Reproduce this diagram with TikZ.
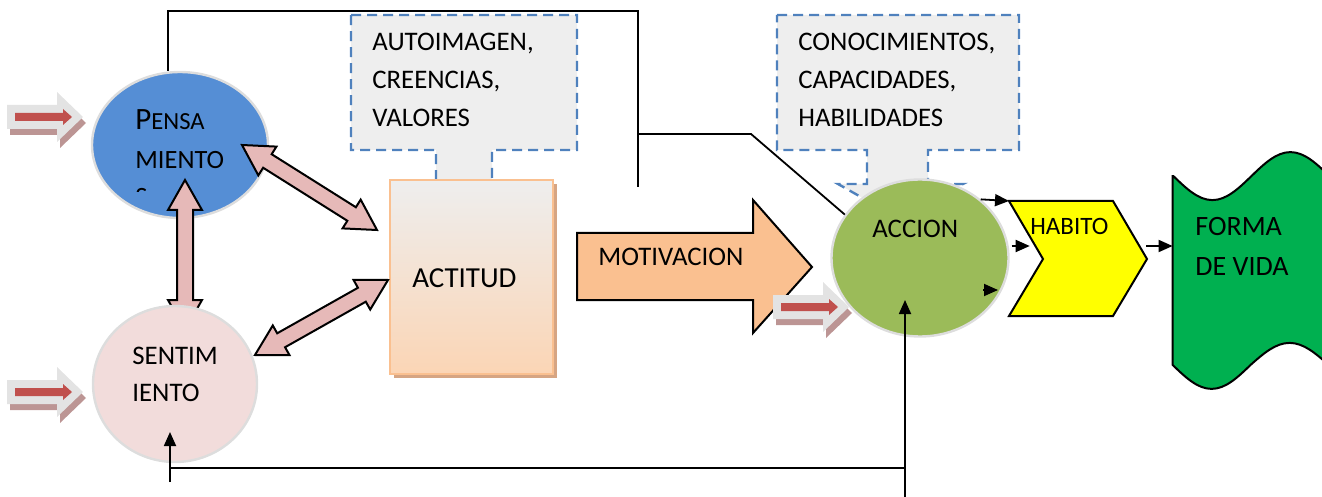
\documentclass[tikz,border=0pt]{standalone}
\usepackage{fontspec}
\setmainfont{Carlito}
\usetikzlibrary{arrows.meta,positioning,calc,shapes.geometric,shadows}

\definecolor{pensblue}{HTML}{558ED5}
\definecolor{sentpink}{HTML}{F2DCDB}
\definecolor{accgreen}{HTML}{9BBB59}
\definecolor{dblpink}{HTML}{E6B9B8}
\definecolor{calloutgray}{HTML}{EEEEEE}
\definecolor{dashblue}{HTML}{4F81BD}
\definecolor{peach}{HTML}{FAC090}
\definecolor{peachlight}{HTML}{FBD5B5}
\definecolor{actshade}{HTML}{D6A583}
\definecolor{habyellow}{HTML}{FFFF00}
\definecolor{vidagreen}{HTML}{00B050}
\definecolor{inred}{HTML}{C0504D}
\definecolor{ingray}{HTML}{E3E3E3}
\definecolor{inshade}{HTML}{BC9594}
\definecolor{rimgray}{HTML}{DDDDDD}

% two-headed block arrow between two points
\newcommand\dblarr[2]{%
  \coordinate (da) at (#1); \coordinate (db) at (#2);
  \coordinate (ha) at ($(da)!15pt!(db)$);
  \coordinate (hb) at ($(db)!15pt!(da)$);
  \draw[dbl] (da) -- ($(ha)!8.5pt!90:(db)$) -- ($(ha)!4pt!90:(db)$)
    -- ($(hb)!4pt!-90:(da)$) -- ($(hb)!8.5pt!-90:(da)$) -- (db)
    -- ($(hb)!8.5pt!90:(da)$) -- ($(hb)!4pt!90:(da)$)
    -- ($(ha)!4pt!-90:(db)$) -- ($(ha)!8.5pt!-90:(db)$) -- cycle;}

\begin{document}
\begin{tikzpicture}[x=0.5pt,y=-0.5pt,line join=miter,
  txt/.style={inner sep=0pt,anchor=north west,align=left,font=\fontsize{13.4}{19}\selectfont},
  blob/.style={ellipse,inner sep=0pt,draw=rimgray,line width=1.2pt},
  dbl/.style={draw=black,fill=dblpink,line width=1pt},
  callout/.style={draw=dashblue,fill=calloutgray,line width=1.2pt,dash pattern=on 5pt off 3pt},
  wire/.style={draw=black,line width=0.9pt},
  feed/.style={wire,-{Triangle[length=7pt,width=6pt]}},
  inflow/.pic={
    \fill[inshade,shift={(3,6)}] (-76,-12) -- (-26,-12) -- (-26,-25) -- (0,0) -- (-26,25) -- (-26,12) -- (-76,12) -- cycle;
    \fill[ingray] (-76,-12) -- (-26,-12) -- (-26,-25) -- (0,0) -- (-26,25) -- (-26,12) -- (-76,12) -- cycle;
    \fill[inred] (-68,-4) -- (-20,-4) -- (-20,-8) -- (-11,0) -- (-20,8) -- (-20,4) -- (-68,4) -- cycle;}]
\useasboundingbox (0,0) rectangle (1322,497);
\clip (0,0) rectangle (1322,497);

% callouts
\draw[callout] (351,15) -- (577,15) -- (577,150) -- (492,150) -- (492,185) -- (505,185) -- (464,210) -- (423,185) -- (436,185) -- (436,150) -- (351,150) -- cycle;
\node[txt] (auto) at (372,33) {AUTOIMAGEN,\\CREENCIAS,\\VALORES};
\draw[callout] (777,15) -- (1019,15) -- (1019,150) -- (928,150) -- (928,184) -- (963,184) -- (898,218) -- (838,184) -- (867,184) -- (867,150) -- (777,150) -- cycle;
\node[txt] (cono) at (798,33) {CONOCIMIENTOS,\\CAPACIDADES,\\HABILIDADES};

% actitud
\node[draw=peach,line width=1pt,top color=calloutgray,bottom color=peachlight,
  drop shadow={shadow xshift=2pt,shadow yshift=-2pt,fill=actshade,opacity=1},
  minimum width=81.5pt,minimum height=97pt,inner sep=0pt] (act) at (471.5,277) {};
\node[txt,font=\fontsize{14.5}{18}\selectfont] (actTxt) at ([shift={(-59.5,-9)}]act.center) {ACTITUD};

% motivacion
\draw[draw=black,fill=peach,line width=1pt] (577,233) -- (753,233) -- (753,200) -- (812,267) -- (753,333) -- (753,300) -- (577,300) -- cycle;
\node[txt] (mot) at (598,248) {MOTIVACION};

% pensamiento
\node[blob,fill=pensblue,minimum width=88pt,minimum height=73pt] (pens) at (180,145) {};
\node[txt,font=\fontsize{13.2}{19.5}\selectfont] (pensTxt) at ([shift={(-45,-36)}]pens.center)
  {{\fontsize{15.5}{19.5}\selectfont P}{\fontsize{12.3}{19.5}\selectfont ENSA}\\MIENTO};
\begin{scope}
  \clip ([shift={(-80,0)}]pens.center) rectangle ([shift={(80,47)}]pens.center);
  \node[txt,font=\fontsize{13.2}{19.5}\selectfont] (pensCut) at ([shift={(-45,43)}]pens.center) {S};
\end{scope}

% sentimiento
\coordinate (sentc) at (175,384);
\dblarr{[shift={(5,35)}]pens.center}{[shift={(10,-54)}]sentc}
\dblarr{[shift={(62,0)}]pens.center}{[shift={(-12,-47)}]act.west}
\node[blob,fill=sentpink,minimum width=82pt,minimum height=78pt] (sent) at (sentc) {};
\node[txt,font=\fontsize{13.4}{18.5}\selectfont] (sentTxt) at ([shift={(-43,-37)}]sent.center) {SENTIM\\IENTO};
\dblarr{[shift={(80,-29)}]sent.center}{[shift={(-1,3)}]act.west}

% accion
\node[blob,fill=accgreen,minimum width=88.5pt,minimum height=78.5pt] (acc) at (920,258) {};
\node[txt] (accTxt) at ([shift={(-48,-38)}]acc.center) {ACCION};

% inputs
\pic at ([shift={(-97,-28)}]pens.center) {inflow};
\pic at ([shift={(-92,8)}]sent.center) {inflow};
\pic at ([shift={(-71,49)}]acc.center) {inflow};

% habito
\draw[draw=black,fill=habyellow,line width=1pt] (1009,201) coordinate (habTL) -- (1113,201) -- (1147,259) coordinate (habTip) -- (1113,316) -- (1009,316) -- (1043,259) -- cycle;
\node[txt,font=\fontsize{12.5}{14}\selectfont] (hab) at (1030,218) {HABITO};

% forma de vida
\node[minimum width=78pt,minimum height=94pt,inner sep=0pt] (vida) at (1251,270.5) {};
\draw[draw=black,fill=vidagreen,line width=1pt] (vida.north west) -- (vida.south west)
  sin ++(39,24) cos ++(39,-24) sin ++(39,-22) cos ++(39,22) -- (vida.north east)
  sin ++(-39,-24) cos ++(-39,24) sin ++(-39,24) cos ++(-39,-24) -- cycle;
\node[txt,font=\fontsize{14}{20}\selectfont] (vidaTxt) at (1195,217) {FORMA\\DE VIDA};

% connectors
\coordinate (upR) at (638,11);
\coordinate (upE) at (638,187);
\coordinate (upJ) at (638,134);
\coordinate (upK) at (751,134);
\draw[wire] ([shift={(-12,0)}]pens.north) |- (upR) -- (upE);
\draw[wire] (upJ) -- (upK) -- (acc.150);
\coordinate (loA) at (905,497);
\coordinate (loJ) at (905,468);
\coordinate (loS) at (170,482);
\draw[feed] (loA) -- ([shift={(-15,42)}]acc.center);
\draw[wire] (loJ) -- (loJ -| loS);
\draw[feed] (loS) -- ([shift={(-5,48)}]sent.center);
\draw[feed] (acc.44) -- (habTL);
\draw[feed] ([shift={(2,-12)}]acc.east) -- ([shift={(20,-12)}]acc.east);
\draw[feed] ([shift={(63,32)}]acc.center) -- ([shift={(78,32)}]acc.center);
\coordinate (hm) at ([shift={(-1,-13)}]habTip);
\draw[feed] (hm) -- (vida.west |- hm);
\end{tikzpicture}
\end{document}
